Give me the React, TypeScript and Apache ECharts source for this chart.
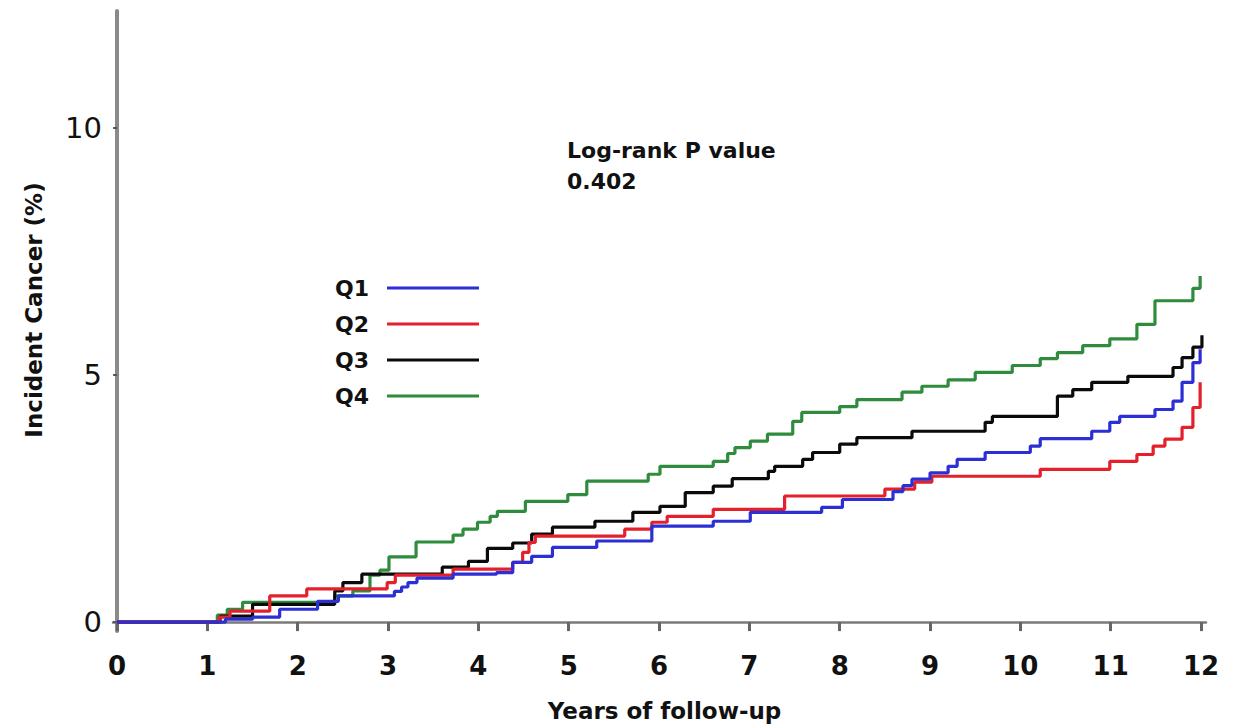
import React, { useEffect, useRef } from "react";
import * as echarts from "echarts";

// ---- data (years, cumulative incidence %) ----
const q1Times = [0, 1.2, 1.5, 1.8, 2.22, 2.45, 3.07, 3.15, 3.22, 3.32, 3.72, 4.2, 4.38, 4.59, 4.82, 5.31, 5.92, 6.6, 7.01, 7.8, 8.03, 8.59, 8.7, 8.8, 9.0, 9.2, 9.3, 9.61, 10.11, 10.22, 10.79, 10.99, 11.1, 11.49, 11.69, 11.79, 11.91, 11.99];
const q1Values = [0, 0.06, 0.1, 0.26, 0.42, 0.53, 0.62, 0.71, 0.8, 0.89, 0.97, 1.0, 1.21, 1.33, 1.51, 1.64, 1.94, 2.04, 2.22, 2.32, 2.48, 2.64, 2.76, 2.89, 3.02, 3.15, 3.29, 3.43, 3.56, 3.71, 3.86, 4.04, 4.16, 4.3, 4.47, 4.85, 5.25, 5.52];

const q2Times = [0, 1.13, 1.25, 1.69, 2.1, 2.99, 3.08, 3.72, 4.38, 4.49, 4.56, 4.63, 5.62, 5.92, 6.09, 6.6, 7.39, 8.5, 8.83, 9.02, 10.22, 10.99, 11.29, 11.47, 11.6, 11.79, 11.91, 11.99];
const q2Values = [0, 0.1, 0.22, 0.53, 0.67, 0.8, 0.95, 1.07, 1.21, 1.41, 1.61, 1.74, 1.88, 2.02, 2.14, 2.28, 2.55, 2.69, 2.83, 2.95, 3.09, 3.25, 3.39, 3.56, 3.7, 3.94, 4.34, 4.85];

const q3Times = [0, 1.14, 1.5, 2.41, 2.5, 2.71, 3.6, 3.89, 4.1, 4.38, 4.59, 4.82, 5.29, 5.71, 6.01, 6.29, 6.6, 6.81, 7.21, 7.28, 7.59, 7.7, 8.0, 8.19, 8.8, 9.61, 9.69, 10.41, 10.58, 10.79, 11.19, 11.69, 11.79, 11.91, 12.01];
const q3Values = [0, 0.12, 0.36, 0.63, 0.8, 0.97, 1.11, 1.23, 1.49, 1.6, 1.78, 1.92, 2.04, 2.22, 2.34, 2.62, 2.75, 2.9, 3.05, 3.15, 3.29, 3.43, 3.6, 3.73, 3.86, 4.04, 4.16, 4.57, 4.7, 4.85, 4.97, 5.15, 5.35, 5.56, 5.8];

const q4Times = [0, 1.11, 1.22, 1.39, 2.41, 2.61, 2.8, 2.91, 3.01, 3.31, 3.72, 3.83, 3.99, 4.13, 4.21, 4.52, 4.99, 5.2, 5.88, 6.01, 6.6, 6.76, 6.84, 7.01, 7.2, 7.48, 7.58, 8.0, 8.19, 8.69, 8.91, 9.2, 9.5, 9.91, 10.22, 10.41, 10.69, 10.99, 11.29, 11.49, 11.91, 11.99];
const q4Values = [0, 0.14, 0.26, 0.4, 0.53, 0.63, 0.95, 1.05, 1.32, 1.62, 1.76, 1.88, 2.02, 2.14, 2.24, 2.44, 2.58, 2.85, 2.99, 3.15, 3.25, 3.41, 3.53, 3.66, 3.8, 4.06, 4.24, 4.36, 4.5, 4.65, 4.77, 4.9, 5.05, 5.19, 5.33, 5.45, 5.59, 5.73, 6.02, 6.5, 6.75, 7.0];

const groupNames = ["Q1", "Q2", "Q3", "Q4"];
const groupColors = ["#2b2fd4", "#e3202b", "#0a0a0a", "#2e8c3c"];
const xTicks = [0, 1, 2, 3, 4, 5, 6, 7, 8, 9, 10, 11, 12];
const yTicks = [0, 5, 10];
const pValueLabel = "Log-rank P value\n0.402";

const groupTimes = [q1Times, q2Times, q3Times, q4Times];
const groupValues = [q1Values, q2Values, q3Values, q4Values];

export default function App() {
  const ref = useRef<HTMLDivElement>(null);

  useEffect(() => {
    if (!ref.current) return;
    const chart = echarts.init(ref.current, null, { renderer: "svg" });

    const series = groupNames.map((name, i) => ({
      name,
      type: "line",
      step: "end",
      symbol: "none",
      data: groupTimes[i].map((t, j) => [t, groupValues[i][j]]),
      lineStyle: { color: groupColors[i], width: 3.2 },
      itemStyle: { color: groupColors[i] },
      z: 10 - i,
    }));

    chart.setOption({
      animation: false,
      backgroundColor: "#ffffff",
      grid: { left: 113, right: 29, top: 11, bottom: 95, containLabel: false },
      xAxis: {
        type: "value",
        min: -0.045,
        max: 12.055,
        name: "Years of follow-up",
        nameLocation: "middle",
        nameGap: 68,
        nameTextStyle: {
          fontFamily: "DejaVu Sans",
          fontWeight: "bold",
          fontSize: 23,
          color: "#111",
          padding: [0, 0, 0, 10],
        },
        axisLine: { show: true, lineStyle: { color: "#7a7a7a", width: 2.5 } },
        axisTick: {
          show: true,
          customValues: xTicks,
          length: 9,
          lineStyle: { color: "#666", width: 3 },
        },
        axisLabel: {
          customValues: xTicks,
          margin: 22,
          fontFamily: "DejaVu Sans",
          fontWeight: "bold",
          fontSize: 26,
          color: "#111",
        },
        splitLine: { show: false },
      },
      yAxis: {
        type: "value",
        min: -0.18,
        max: 12.36,
        name: "Incident Cancer (%)",
        nameLocation: "middle",
        nameGap: 68,
        nameRotate: 90,
        nameTextStyle: {
          fontFamily: "DejaVu Sans",
          fontWeight: "bold",
          fontSize: 23,
          color: "#111",
          padding: [0, 0, 0, 22],
        },
        axisLine: { show: true, lineStyle: { color: "#8a8a8a", width: 4 } },
        axisTick: {
          show: true,
          customValues: yTicks,
          length: 4,
          lineStyle: { color: "#555", width: 2 },
        },
        axisLabel: {
          customValues: yTicks,
          margin: 11,
          fontFamily: "DejaVu Sans",
          fontSize: 29,
          color: "#111",
        },
        splitLine: { show: false },
      },
      legend: {
        data: groupNames,
        orient: "vertical",
        left: 335,
        top: 277,
        padding: 0,
        align: "right",
        icon: "rect",
        itemWidth: 92,
        itemHeight: 3,
        itemGap: 14,
        selectedMode: false,
        textStyle: {
          fontFamily: "DejaVu Sans",
          fontWeight: "bold",
          fontSize: 22,
          lineHeight: 22,
          color: "#111",
          padding: [0, 13, 0, 0],
        },
      },
      graphic: [
        {
          type: "text",
          left: 567,
          top: 135,
          style: {
            text: pValueLabel,
            font: "bold 22px 'DejaVu Sans'",
            fill: "#111",
            lineHeight: 31,
          },
        },
      ],
      series,
    });

    return () => chart.dispose();
  }, []);

  return (
    <div
      ref={ref}
      style={{ position: "fixed", left: 0, top: 0, width: 1235, height: 727, background: "#fff" }}
    />
  );
}
